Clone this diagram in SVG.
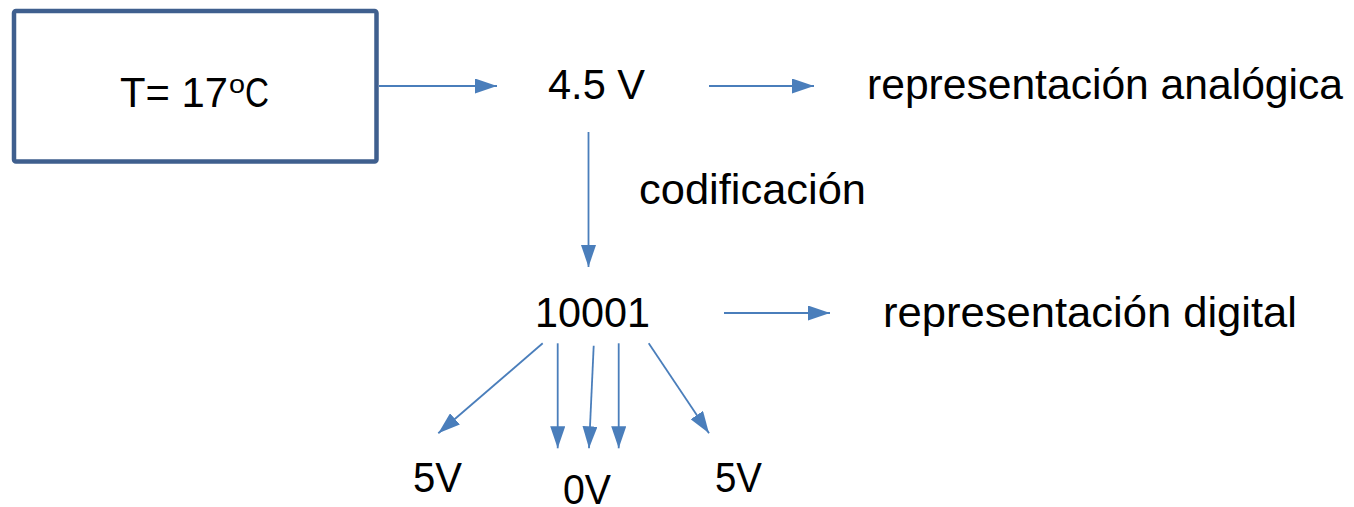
<svg xmlns="http://www.w3.org/2000/svg" width="1354" height="507" viewBox="0 0 1354 507">
<style>
  text { font-family: "Liberation Sans", Arial, sans-serif; font-size: 42px; fill: #000; }
  .conn line { stroke: #4a7ebb; stroke-width: 1.8; fill: none; }
</style>
<defs>
  <marker id="ah" markerUnits="userSpaceOnUse" markerWidth="22" markerHeight="15" refX="22" refY="7.5" orient="auto">
    <path d="M0,0 L22,7.5 L0,15 Z" fill="#4a7ebb"/>
  </marker>
</defs>
<rect width="1354" height="507" fill="#fff"/>
<g id="node-temp">
  <rect x="14" y="11" width="362.5" height="150.5" rx="2" fill="#fff" stroke="#3f5f8e" stroke-width="4.5"/>
  <text x="120" y="107" textLength="108" lengthAdjust="spacingAndGlyphs">T= 17</text>
  <text x="229" y="93" style="font-size:25px" textLength="16" lengthAdjust="spacingAndGlyphs">o</text>
  <text x="245" y="107" textLength="24" lengthAdjust="spacingAndGlyphs">C</text>
</g>
<g id="node-analog-value">
  <text x="548" y="99" textLength="97" lengthAdjust="spacingAndGlyphs">4.5 V</text>
</g>
<g id="node-analog-label">
  <text x="867" y="99" textLength="476" lengthAdjust="spacingAndGlyphs">representación analógica</text>
</g>
<g id="label-coding">
  <text x="639" y="204" textLength="227" lengthAdjust="spacingAndGlyphs">codificación</text>
</g>
<g id="node-digital-value">
  <text x="535" y="327" textLength="115" lengthAdjust="spacingAndGlyphs">10001</text>
</g>
<g id="node-digital-label">
  <text x="883" y="327" textLength="414" lengthAdjust="spacingAndGlyphs">representación digital</text>
</g>
<g id="node-5v-left">
  <text x="413" y="492" textLength="49" lengthAdjust="spacingAndGlyphs">5V</text>
</g>
<g id="node-0v">
  <text x="563" y="504" textLength="48" lengthAdjust="spacingAndGlyphs">0V</text>
</g>
<g id="node-5v-right">
  <text x="715" y="492" textLength="47" lengthAdjust="spacingAndGlyphs">5V</text>
</g>
<g id="connectors" class="conn">
  <line x1="379" y1="86" x2="497" y2="86" marker-end="url(#ah)"/>
  <line x1="709" y1="86" x2="814" y2="86" marker-end="url(#ah)"/>
  <line x1="588.5" y1="132" x2="588.5" y2="267" marker-end="url(#ah)"/>
  <line x1="724" y1="313" x2="830" y2="313" marker-end="url(#ah)"/>
  <line x1="542.7" y1="343.3" x2="438.3" y2="433.3" marker-end="url(#ah)"/>
  <line x1="557.7" y1="343.3" x2="557.7" y2="448.3" marker-end="url(#ah)"/>
  <line x1="593.7" y1="345.7" x2="589" y2="448.3" marker-end="url(#ah)"/>
  <line x1="618.7" y1="343.3" x2="618.7" y2="448.3" marker-end="url(#ah)"/>
  <line x1="648.7" y1="343.3" x2="709" y2="433.3" marker-end="url(#ah)"/>
</g>
</svg>
